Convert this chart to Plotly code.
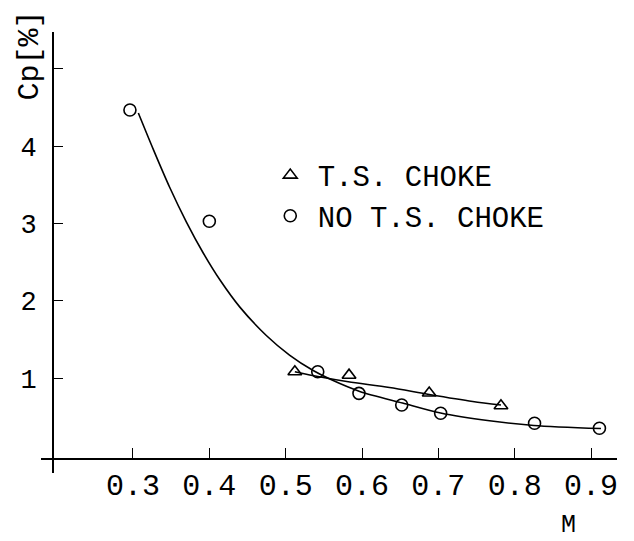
import plotly.graph_objects as go

# Measured points
m_no_choke = [0.296, 0.400, 0.542, 0.596, 0.652, 0.703, 0.826, 0.911]
cp_no_choke = [4.47, 3.03, 1.085, 0.805, 0.655, 0.547, 0.418, 0.353]

m_choke = [0.512, 0.583, 0.688, 0.782]
cp_choke = [1.085, 1.04, 0.81, 0.645]

# Faired curves
m_curve_no = [0.307, 0.327, 0.348, 0.370, 0.392, 0.414, 0.440, 0.475, 0.505, 0.536,
              0.560, 0.597, 0.653, 0.703, 0.767, 0.825, 0.913]
cp_curve_no = [4.43, 3.95, 3.47, 3.02, 2.62, 2.27, 1.92, 1.55, 1.30, 1.10,
               0.98, 0.83, 0.68, 0.55, 0.45, 0.39, 0.35]

m_curve_ch = [0.512, 0.544, 0.582, 0.636, 0.688, 0.745, 0.782]
cp_curve_ch = [1.085, 1.02, 0.955, 0.88, 0.79, 0.70, 0.655]

x_ticks = [0.3, 0.4, 0.5, 0.6, 0.7, 0.8, 0.9]
x_tick_text = ["0.3", "0.4", "0.5", "0.6", "0.7", "0.8", "0.9"]
y_ticks = [1, 2, 3, 4, 5]
y_tick_text = ["1", "2", "3", "4", ""]

FONT = "Liberation Mono"

fig = go.Figure()
fig.add_trace(go.Scatter(x=m_curve_no, y=cp_curve_no, mode="lines",
                         line=dict(color="black", width=1.6, shape="spline", smoothing=0.8),
                         showlegend=False, hoverinfo="skip"))
fig.add_trace(go.Scatter(x=m_curve_ch, y=cp_curve_ch, mode="lines",
                         line=dict(color="black", width=1.6, shape="spline", smoothing=0.8),
                         showlegend=False, hoverinfo="skip"))
fig.add_trace(go.Scatter(x=m_choke, y=cp_choke, mode="markers", name="T.S. CHOKE",
                         marker=dict(symbol="triangle-up-open", size=12, color="black",
                                     line=dict(width=1.6, color="black"))))
fig.add_trace(go.Scatter(x=m_no_choke, y=cp_no_choke, mode="markers", name="NO T.S. CHOKE",
                         marker=dict(symbol="circle-open", size=12, color="black",
                                     line=dict(width=1.6, color="black"))))

fig.update_layout(
    width=634, height=541,
    margin=dict(l=41, r=17, t=32, b=68, autoexpand=False),
    paper_bgcolor="white", plot_bgcolor="white",
    font=dict(family=FONT, color="black"),
    xaxis=dict(range=[0.1795, 0.934], anchor="free", position=0.0317, automargin=False,
               showline=True, linecolor="black", linewidth=1.6,
               showgrid=False, zeroline=False,
               tickmode="array", tickvals=x_ticks, ticktext=x_tick_text,
               ticks="inside", ticklen=10, tickwidth=1.3, tickcolor="black",
               ticklabelstandoff=-1, tickfont=dict(size=30, family=FONT)),
    yaxis=dict(range=[-0.225, 5.478], anchor="free", position=0.0208, automargin=False,
               showline=True, linecolor="black", linewidth=1.6,
               showgrid=False, zeroline=False,
               tickmode="array", tickvals=y_ticks, ticktext=y_tick_text,
               ticks="inside", ticklen=9, tickwidth=1.3, tickcolor="black",
               ticklabelstandoff=10, tickfont=dict(size=27, family=FONT)),
    legend=dict(x=0.385, y=0.733, xanchor="left", yanchor="top", itemwidth=45,
                bgcolor="rgba(0,0,0,0)", font=dict(size=29, family=FONT),
                tracegroupgap=0),
    annotations=[
        dict(text="Cp[%]", xref="paper", yref="paper", x=-0.02, y=0.948,
             xanchor="center", yanchor="middle", showarrow=False, textangle=-90,
             font=dict(size=30, family=FONT)),
        dict(text="M", xref="paper", yref="paper", x=0.915, y=-0.118,
             xanchor="center", yanchor="middle", showarrow=False,
             font=dict(size=25, family=FONT)),
    ],
)

fig.write_html("out.html", config={"displayModeBar": False},
               post_script="document.body.style.margin='0';document.body.style.overflow='hidden';")
